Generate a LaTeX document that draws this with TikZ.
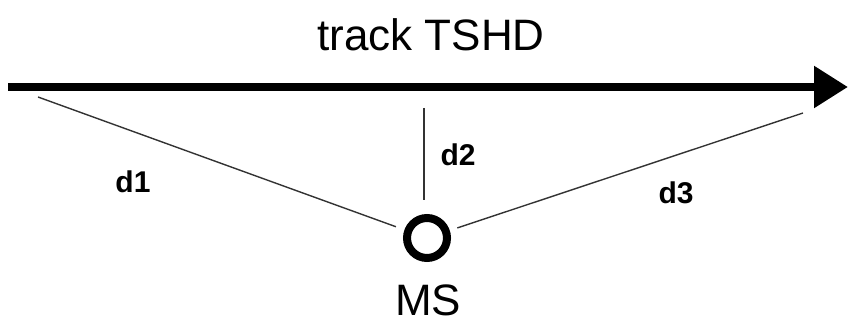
\documentclass[tikz,border=0pt]{standalone}
\usepackage{fontspec}
\setmainfont{Liberation Sans}
\usetikzlibrary{arrows.meta}
\begin{document}
\begin{tikzpicture}[x=1pt,y=-1pt,
  thinline/.style={line width=1.4pt, draw=black!80},
  lbl/.style={font=\fontsize{30}{32}\selectfont\bfseries, inner sep=0pt},
  big/.style={font=\fontsize{44}{46}\selectfont, inner sep=0pt}]
\useasboundingbox (0,0) rectangle (848,328);
\coordinate (tstart) at (8,87);
\coordinate (tend) at (848,87);
\draw[line width=8.5pt, -{Triangle[length=34pt,width=40pt]}] (tstart) -- (tend);
\node[big] (title) at (431,35) {track TSHD};
\node[circle, draw, line width=8pt, minimum size=40pt, inner sep=0pt] (ms) at (427,238) {};
\node[big] (mslabel) at (428,300) {MS};
\coordinate (a1) at (38,97);
\coordinate (a2) at (424,108);
\coordinate (a3) at (803,113);
\draw[thinline, shorten >=9pt] (a1) -- (ms);
\draw[thinline] (a2) -- (424,200);
\draw[thinline, shorten >=8pt] (a3) -- (ms);
\node[lbl] (d1) at (133,182) {d1};
\node[lbl] (d2) at (458,155) {d2};
\node[lbl] (d3) at (676,193) {d3};
\end{tikzpicture}
\end{document}
